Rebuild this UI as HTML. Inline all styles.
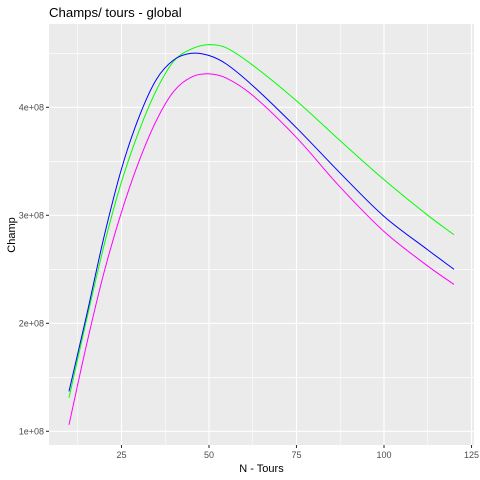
<!DOCTYPE html>
<html><head><meta charset="utf-8"><style>
body{margin:0;background:#fff;}
svg{display:block;font-family:"Liberation Sans",sans-serif;}
</style></head><body>
<svg id="chart" width="480" height="480" viewBox="0 0 480 480">
<rect width="480" height="480" fill="#fff"/>
<text x="49" y="17" font-size="13.2" fill="#000">Champs/ tours - global</text>
<rect x="49" y="24" width="425" height="421" fill="#ebebeb"/>
<g id="grid"></g>
<g id="axes"></g>
<g id="series"></g>
<text x="261.5" y="472" font-size="11" text-anchor="middle" fill="#000">N - Tours</text>
<text transform="translate(15,235) rotate(-90)" font-size="11" text-anchor="middle" fill="#000">Champ</text>
</svg>
<script>
const xTicks = [25, 50, 75, 100, 125];
const yTicks = [1, 2, 3, 4];
const yTickLabels = ["1e+08", "2e+08", "3e+08", "4e+08"];
const xs = [10, 15, 20, 25, 30, 35, 40, 45, 50, 55, 62.5, 75, 87.5, 100, 112.5, 120];
const blueVals = [1.37, 2.07, 2.80, 3.43, 3.91, 4.26, 4.44, 4.50, 4.48, 4.40, 4.20, 3.81, 3.39, 2.99, 2.68, 2.50];
const greenVals = [1.31, 2.03, 2.72, 3.31, 3.78, 4.16, 4.43, 4.54, 4.58, 4.55, 4.39, 4.06, 3.69, 3.33, 3.00, 2.82];
const magentaVals = [1.06, 1.80, 2.47, 3.03, 3.50, 3.88, 4.15, 4.28, 4.31, 4.27, 4.11, 3.72, 3.26, 2.85, 2.53, 2.36];

const NS = "http://www.w3.org/2000/svg";
const X = v => 34 + 3.5 * v;
const Y = v => 431.3 - 108 * (v - 1);
const L = 49, R = 474, T = 24, B = 445;
function mk(tag, attrs, parent){const e=document.createElementNS(NS,tag);for(const k in attrs)e.setAttribute(k,attrs[k]);parent.appendChild(e);return e;}
const grid = document.getElementById('grid'), axes = document.getElementById('axes'), series = document.getElementById('series');
for (let i = 0; i < xTicks.length; i++) {
  const m = xTicks[i] - 12.5;
  if (X(m) > L && X(m) < R) { const g = mk('line',{x1:X(m),x2:X(m),y1:T,y2:B,stroke:'#fff','stroke-width':0.55},grid);
      }
}
for (let i = 0; i < yTicks.length; i++) {
  for (const m of [yTicks[i] - 0.5, yTicks[i] + 0.5]) {
    if (Y(m) > T && Y(m) < B) { const g = mk('line',{x1:L,x2:R,y1:Y(m),y2:Y(m),stroke:'#fff','stroke-width':0.55},grid);
        }
  }
}
xTicks.forEach(t => {
  const g = mk('line',{x1:X(t),x2:X(t),y1:T,y2:B,stroke:'#fff','stroke-width':1.1},grid);
   
  const tk = mk('line',{x1:X(t),x2:X(t),y1:B,y2:B+3,stroke:'#333','stroke-width':1.1},axes);
   
  const tx = mk('text',{x:X(t),y:B+13,'font-size':9,'text-anchor':'middle',fill:'#4d4d4d'},axes);
  tx.textContent = t;
   
});
yTicks.forEach((t,i) => {
  const g = mk('line',{x1:L,x2:R,y1:Y(t),y2:Y(t),stroke:'#fff','stroke-width':1.1},grid);
   
  const tk = mk('line',{x1:L-3,x2:L,y1:Y(t),y2:Y(t),stroke:'#333','stroke-width':1.1},axes);
   
  const tx = mk('text',{x:L-5,y:Y(t)+3.2,'font-size':9,'text-anchor':'end',fill:'#4d4d4d'},axes);
  tx.textContent = yTickLabels[i];
   
});
function pathFor(vals){
  const p = xs.map((x,i)=>[X(x),Y(vals[i])]);
  let d = `M${p[0][0]},${p[0][1]}`;
  for (let i=0;i<p.length-1;i++){
    const p0=p[Math.max(0,i-1)],p1=p[i],p2=p[i+1],p3=p[Math.min(p.length-1,i+2)];
    const h=p2[0]-p1[0];
    const m1=(p2[1]-p0[1])/(p2[0]-p0[0]||1), m2=(p3[1]-p1[1])/(p3[0]-p1[0]||1);
    const c1=[p1[0]+h/3,p1[1]+m1*h/3];
    const c2=[p2[0]-h/3,p2[1]-m2*h/3];
    d+=` C${c1[0]},${c1[1]} ${c2[0]},${c2[1]} ${p2[0]},${p2[1]}`;
  }
  return d;
}
const s1 = mk('path',{d:pathFor(greenVals),fill:'none',stroke:'#00ff00','stroke-width':1},series);
 
const s2 = mk('path',{d:pathFor(magentaVals),fill:'none',stroke:'#ff00ff','stroke-width':1},series);
 
const s3 = mk('path',{d:pathFor(blueVals),fill:'none',stroke:'#0000ff','stroke-width':1},series);
 
</script>
</body></html>
